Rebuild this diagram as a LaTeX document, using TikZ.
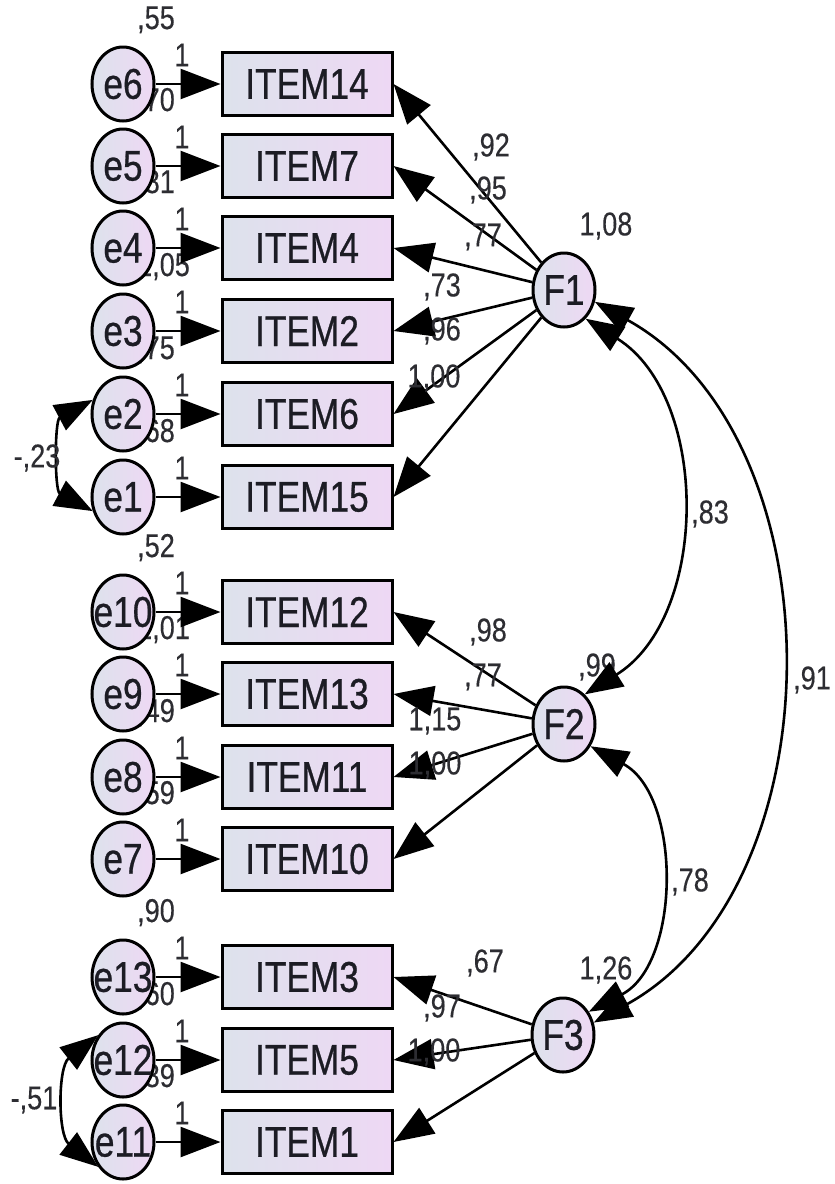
\documentclass[tikz,border=0pt]{standalone}
\usepackage{fontspec}
\usetikzlibrary{arrows.meta,shapes.geometric}
\newfontfamily\amosfont{Liberation Sans}[FakeStretch=0.82,FakeBold=0.6]
\newfontfamily\numfont{Liberation Sans}[FakeStretch=0.82,FakeBold=0.3]
\definecolor{shadeleft}{RGB}{221,226,236}
\definecolor{shaderight}{RGB}{238,216,244}
\definecolor{ink}{RGB}{28,28,36}
\definecolor{numink}{RGB}{45,45,50}
\pgfdeclarelayer{numbers}
\pgfsetlayers{numbers,main}
\tikzset{
  obs/.style={rectangle, draw, line width=3pt, left color=shadeleft, right color=shaderight,
    minimum width=170pt, minimum height=63pt, inner sep=0pt,
    font=\amosfont\fontsize{43}{43}\selectfont, text=ink},
  lat/.style={ellipse, draw, line width=3pt, left color=shadeleft, right color=shaderight,
    minimum width=62pt, minimum height=74pt, inner sep=0pt,
    font=\amosfont\fontsize{43}{43}\selectfont, text=ink},
  est/.style={inner sep=0pt, font=\numfont\fontsize{33}{33}\selectfont, text=numink},
  regw/.style={line width=2.6pt, -{Triangle[length=40pt,width=30pt]}},
  cov/.style={line width=2.6pt, {Triangle[length=38pt,width=28pt]}-{Triangle[length=38pt,width=28pt]}}
}
\begin{document}
\begin{tikzpicture}[x=1pt,y=-1pt]
  \useasboundingbox (0,0) rectangle (835,1184);

  % observed items with their error terms
  \foreach \n/\y/\e/\v in {14/84/6/{,55}, 7/166/5/{,70}, 4/248/4/{,81}, 2/331/3/{1,05},
      6/414/2/{,75}, 15/497/1/{,68}, 12/612/10/{,52}, 13/694/9/{1,01}, 11/777/8/{,49},
      10/859/7/{,59}, 3/977/13/{,90}, 5/1060/12/{,60}, 1/1142/11/{,89}} {
    \begin{pgfonlayer}{numbers}
      \node[est, anchor=base west] (v\e) at (137,\y-55) {\v};
    \end{pgfonlayer}
    \node[obs] (it\n) at (307,\y) {ITEM\n};
    \node[lat] (e\e) at (123,\y) {\makebox[0pt]{e\e}};
    \draw[regw] (e\e) -- (it\n);
    \node[est] (one\e) at (182,\y-29) {1};
  }

  % factors
  \node[lat] (F1) at (564,290) {\makebox[0pt]{F1}};
  \node[lat] (F2) at (564,724) {\makebox[0pt]{F2}};
  \node[lat] (F3) at (563,1035) {\makebox[0pt]{F3}};

  \begin{pgfonlayer}{numbers}
    \node[est] (vF1) at (606,226) {1,08};
    \node[est] (vF2) at (597,667) {,99};
    \node[est] (vF3) at (606,970) {1,26};
  \end{pgfonlayer}

  % loadings
  \foreach \t in {14,7,4,2,6,15}
    \draw[regw] (F1) -- (it\t.east);
  \foreach \t in {12,13,11,10}
    \draw[regw] (F2) -- (it\t.east);
  \foreach \t in {3,5,1}
    \draw[regw] (F3) -- (it\t.east);

  \node[est] (w14) at (491,147) {,92};
  \node[est] (w7) at (488,190) {,95};
  \node[est] (w4) at (483,237) {,77};
  \node[est] (w2) at (442,287) {,73};
  \node[est] (w6) at (442,331) {,96};
  \node[est] (w15) at (434,378) {1,00};
  \node[est] (w12) at (488,632) {,98};
  \node[est] (w13) at (483,677) {,77};
  \node[est] (w11) at (435,721) {1,15};
  \node[est] (w10) at (435,765) {1,00};
  \node[est] (w3) at (485,963) {,67};
  \node[est] (w5) at (442,1008) {,97};
  \node[est] (w1) at (434,1052) {1,00};

  % covariances
  \draw[cov] (F1.-53) to[bend left=58] (F2.55);
  \draw[cov] (F1.-21) to[bend left=61] (F3.22);
  \draw[cov] (F2.-40) to[bend left=62] (F3.42);
  \draw[cov] (e2.155) to[bend right=62] (e1.205);
  \draw[cov] (e12.135) to[bend right=52] (e11.225);

  \node[est] (c12) at (710,514) {,83};
  \node[est] (c13) at (812,680) {,91};
  \node[est] (c23) at (690,882) {,78};
  \node[est] (c21) at (37,458) {-,23};
  \node[est] (c1112) at (34,1100) {-,51};
\end{tikzpicture}
\end{document}
